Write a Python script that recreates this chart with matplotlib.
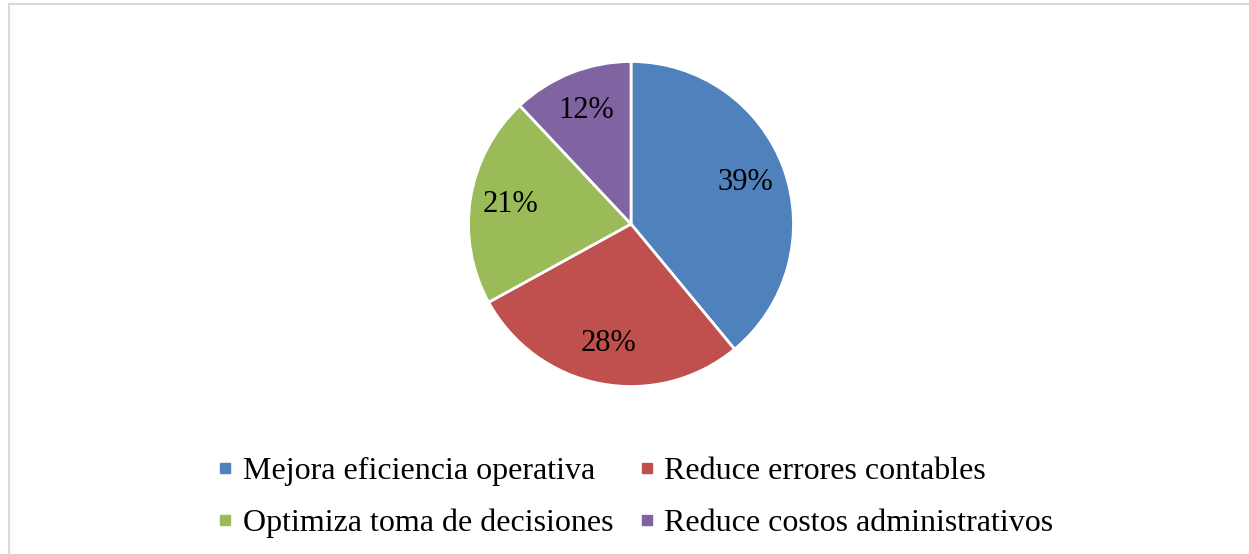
import matplotlib
matplotlib.use("Agg")
import matplotlib.pyplot as plt
from matplotlib.lines import Line2D
from matplotlib.patches import Rectangle

categories = [
    "Mejora eficiencia operativa",
    "Reduce errores contables",
    "Optimiza toma de decisiones",
    "Reduce costos administrativos",
]
values = [39, 28, 21, 12]
colors = ["#4F81BD", "#C0504D", "#9BBB59", "#8064A2"]

plt.rcParams["font.family"] = ["Liberation Serif", "DejaVu Serif"]

W, H = 1249, 554
fig = plt.figure(figsize=(W / 100, H / 100), dpi=100)

# light grey frame (only top and left edges fall inside the picture)
fig.patches.append(Rectangle((9 / W, -0.1), 1.2, 1 - 4 / H + 0.1,
                             transform=fig.transFigure, fill=False,
                             edgecolor="#D9D9D9", linewidth=1.5))

cx, cy, r = 631, 224, 162.5
ax = fig.add_axes([(cx - r) / W, (H - cy - r) / H, 2 * r / W, 2 * r / H])
wedges, texts, autotexts = ax.pie(
    values,
    colors=colors,
    startangle=90,
    counterclock=False,
    autopct="%1.0f%%",
    pctdistance=0.75,
    radius=1.0,
    wedgeprops=dict(edgecolor="white", linewidth=2),
    textprops=dict(fontsize=22, color="black"),
)
ax.set_xlim(-1, 1)
ax.set_ylim(-1, 1)
ax.set_aspect("equal")
ax.axis("off")

# legend fills row by row: reorder for a column-major legend
order = [0, 2, 1, 3]
handles = [Line2D([0], [0], marker="s", linestyle="none", markersize=7.5,
                  markerfacecolor=colors[i], markeredgecolor=colors[i])
           for i in order]
labels = [categories[i] for i in order]
fig.legend(handles, labels, loc="center", bbox_to_anchor=(0.508, 0.102),
           ncol=2, frameon=False, fontsize=23, handlelength=0.6,
           handletextpad=0.25, columnspacing=0.75, labelspacing=0.7)

fig.savefig("out.png", dpi=100)
